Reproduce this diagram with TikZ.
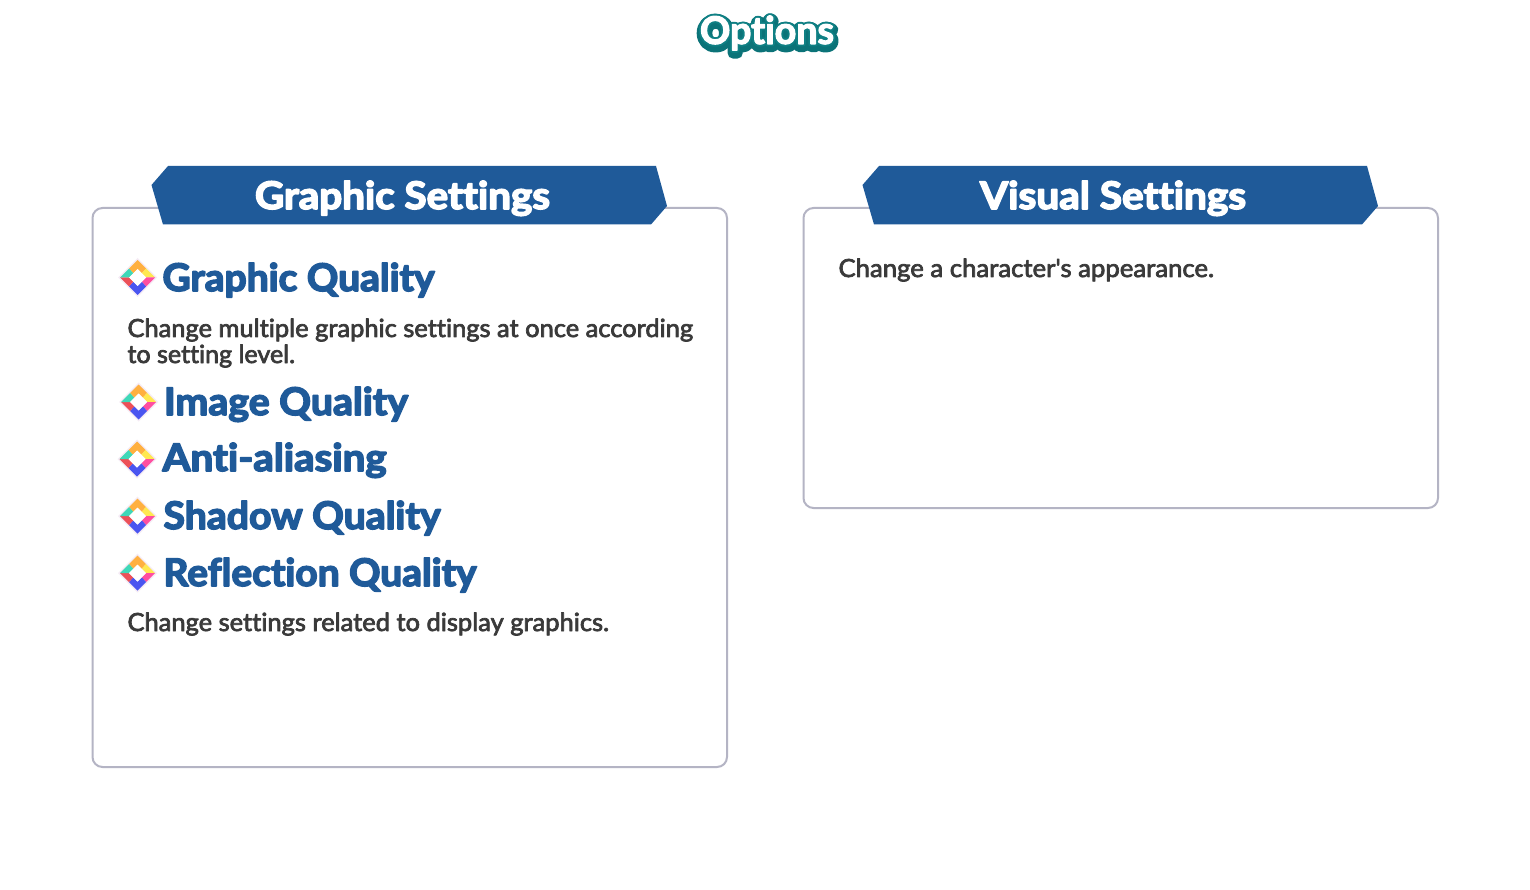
\documentclass[tikz,border=0pt]{standalone}
\usepackage{graphicx}
\usepackage{fontspec}
\setmainfont{Lato}[Ligatures=NoCommon]
\newfontfamily\bodyfont{Lato}[Ligatures=NoCommon]
\newfontfamily\headfont{Lato Bold}[Ligatures=NoCommon]
\definecolor{bannerblue}{HTML}{1F5A99}
\definecolor{bodygrey}{HTML}{3A3A3A}
\definecolor{frameline}{HTML}{B4B4C4}
\definecolor{tealdark}{HTML}{0B7378}
\definecolor{tealmid}{HTML}{0F8084}
\definecolor{gemorange}{HTML}{FFB040}
\definecolor{gemyellow}{HTML}{FFE850}
\definecolor{gempink}{HTML}{FF4FA0}
\definecolor{gemblue}{HTML}{4A55F0}
\definecolor{gemred}{HTML}{EC5058}
\definecolor{gemteal}{HTML}{3FD8B8}
\newcommand{\fitw}[2]{\resizebox{#1pt}{\height}{#2}}
% stroked text: {r g b}{width}{text}
\newcommand{\strk}[3]{\special{pdf:code q 2 Tr #2 w 1 j 1 J #1 RG}#3\special{pdf:code Q}}
\newcommand{\headtxt}[2]{{\fontsize{38}{38}\selectfont\headfont\strk{#1}{1.5}{#2}}}
\newcommand{\bodytxt}[1]{{\fontsize{25}{25}\selectfont\bodyfont\strk{0.227 0.227 0.227}{0.7}{#1}}}
\newcommand{\blue}{0.122 0.353 0.6}
\tikzset{
  x=1pt,y=-1pt,
  frame/.style={draw=frameline,line width=2pt,rounded corners=10pt,fill=white},
  banner/.style={fill=bannerblue,draw=none},
  head/.style={anchor=base west,inner sep=0pt,outer sep=0pt,text=bannerblue},
  bannertext/.style={anchor=base west,inner sep=0pt,outer sep=0pt,text=white},
  body/.style={anchor=base west,inner sep=0pt,outer sep=0pt,text=bodygrey},
  gem/.pic={
    \fill[white!92!violet] (0,-19.5) -- (19.5,0) -- (0,19.5) -- (-19.5,0) -- cycle;
    \fill[gemorange] (0,-17.5) -- (8.5,-9) -- (4.25,-4.25) -- (0,-8.5) -- (-4.25,-4.25) -- (-8.5,-9) -- cycle;
    \fill[gemyellow] (8.5,-9) -- (17.5,0) -- (8.5,0) -- (4.25,-4.25) -- cycle;
    \fill[gempink] (17.5,0) -- (8.5,9) -- (4.25,4.25) -- (8.5,0) -- cycle;
    \fill[gemblue] (8.5,9) -- (0,17.5) -- (-8.5,9) -- (-4.25,4.25) -- (0,8.5) -- (4.25,4.25) -- cycle;
    \fill[gemred] (-8.5,9) -- (-17.5,0) -- (-8.5,0) -- (-4.25,4.25) -- cycle;
    \fill[gemteal] (-17.5,0) -- (-8.5,-9) -- (-4.25,-4.25) -- (-8.5,0) -- cycle;
    \fill[white] (0,-8.5) -- (8.5,0) -- (0,8.5) -- (-8.5,0) -- cycle;
  }
}
\begin{document}
\begin{tikzpicture}
\useasboundingbox (0,0) rectangle (1530,890);
\fill[white] (0,0) rectangle (1530,890);
% title
\node[inner sep=0pt,text=tealdark] (titleshadow) at (767.5,36) {\fitw{134}{\fontsize{38}{38}\selectfont\headfont\strk{0.043 0.451 0.471}{10.5}{Options}}};
\node[inner sep=0pt,text=tealmid] (titlemid) at (767,33) {\fitw{134}{\fontsize{38}{38}\selectfont\headfont\strk{0.059 0.502 0.518}{5}{Options}}};
\node[inner sep=0pt,text=white] (title) at (767,33) {\fitw{134}{\fontsize{38}{38}\selectfont\headfont\strk{1 1 1}{1.2}{Options}}};
% frames
\draw[frame] (92.5,208) rectangle (727,767);
\draw[frame] (803.5,208) rectangle (1438,508);
% banners
\fill[banner] (168,166) -- (151.5,185) -- (163,224.5) -- (651,224.5) -- (667,206) -- (656,166) -- cycle;
\fill[banner] (879,166) -- (862.5,185) -- (874,224.5) -- (1362,224.5) -- (1378,206) -- (1367,166) -- cycle;
\node[bannertext] (gs) at (255,209) {\fitw{295}{\headtxt{1 1 1}{Graphic Settings}}};
\node[bannertext] (vs) at (980,209) {\fitw{266}{\headtxt{1 1 1}{Visual Settings}}};
% icons
\pic at (137.5,277.5) {gem};
\pic at (138.5,402) {gem};
\pic at (137,459) {gem};
\pic at (137.5,516) {gem};
\pic at (137.5,573) {gem};
% headings
\node[head] (h1) at (162.5,291) {\fitw{272}{\headtxt{\blue}{Graphic Quality}}};
\node[head] (h2) at (164,415) {\fitw{244}{\headtxt{\blue}{Image Quality}}};
\node[head] (h3) at (162.5,471) {\fitw{224}{\headtxt{\blue}{Anti-aliasing}}};
\node[head] (h4) at (163.5,529) {\fitw{277}{\headtxt{\blue}{Shadow Quality}}};
\node[head] (h5) at (163.5,586) {\fitw{313}{\headtxt{\blue}{Reflection Quality}}};
% body
\node[body] (b1) at (127.5,337) {\fitw{565.5}{\bodytxt{Change multiple graphic settings at once according}}};
\node[body] (b2) at (127.5,363) {\fitw{167.5}{\bodytxt{to setting level.}}};
\node[body] (b3) at (127.5,631) {\fitw{481.5}{\bodytxt{Change settings related to display graphics.}}};
\node[body] (b4) at (838.5,277) {\fitw{375.5}{\bodytxt{Change a character's appearance.}}};
\end{tikzpicture}
\end{document}
